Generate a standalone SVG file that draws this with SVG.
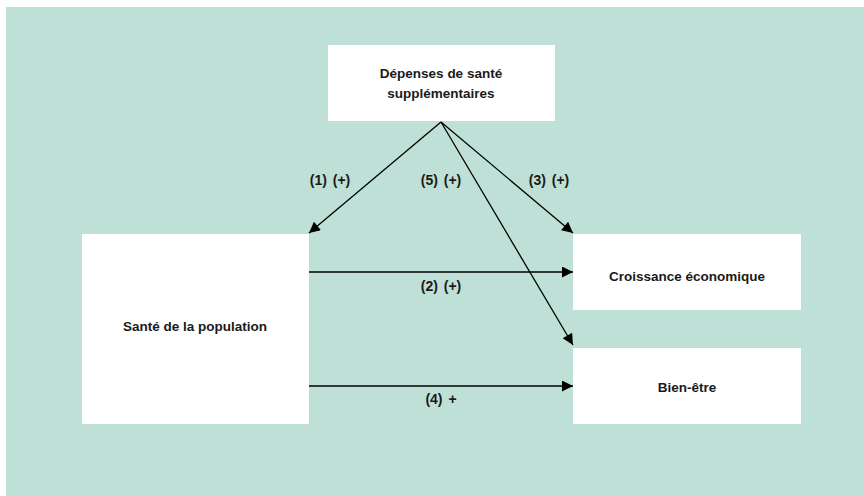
<svg xmlns="http://www.w3.org/2000/svg" width="864" height="496" viewBox="0 0 864 496">
<defs>
<style>
.box{fill:#ffffff;}
.t{font-family:"Liberation Sans",Arial,sans-serif;font-weight:bold;font-size:13.5px;fill:#1a1a1a;text-anchor:middle;}
.l{font-family:"Liberation Sans",Arial,sans-serif;font-weight:bold;font-size:14px;fill:#1a1a1a;text-anchor:middle;word-spacing:2px;}
.c{stroke:#000;stroke-width:1.3;fill:none;marker-end:url(#ah);}
</style>
<marker id="ah" viewBox="0 0 10 10" refX="10" refY="5" markerWidth="14" markerHeight="11" markerUnits="userSpaceOnUse" orient="auto">
<path d="M0,0 L10,5 L0,10 z" fill="#000"/>
</marker>
</defs>
<rect x="6" y="7" width="858" height="489" fill="#bfe0d6"/>
<g id="depenses">
<rect class="box" x="328" y="45" width="227" height="76"/>
<text class="t" x="441" y="78">Dépenses de santé</text>
<text class="t" x="441" y="98">supplémentaires</text>
</g>
<g id="sante">
<rect class="box" x="82" y="234" width="227" height="190"/>
<text class="t" x="195" y="331">Santé de la population</text>
</g>
<g id="croissance">
<rect class="box" x="573" y="234" width="228" height="76"/>
<text class="t" x="687" y="281">Croissance économique</text>
</g>
<g id="bienetre">
<rect class="box" x="573" y="348" width="228" height="76"/>
<text class="t" x="687" y="392">Bien-être</text>
</g>
<g id="connectors">
<line class="c" x1="441" y1="122" x2="309" y2="233"/>
<line class="c" x1="441" y1="122" x2="573" y2="233"/>
<line class="c" x1="441" y1="122" x2="573" y2="345"/>
<line class="c" x1="309" y1="272" x2="573" y2="272"/>
<line class="c" x1="309" y1="386" x2="573" y2="386"/>
<text class="l" x="330" y="185">(1) (+)</text>
<text class="l" x="441" y="185">(5) (+)</text>
<text class="l" x="549" y="185">(3) (+)</text>
<text class="l" x="441" y="291">(2) (+)</text>
<text class="l" x="441" y="404">(4) +</text>
</g>
</svg>
